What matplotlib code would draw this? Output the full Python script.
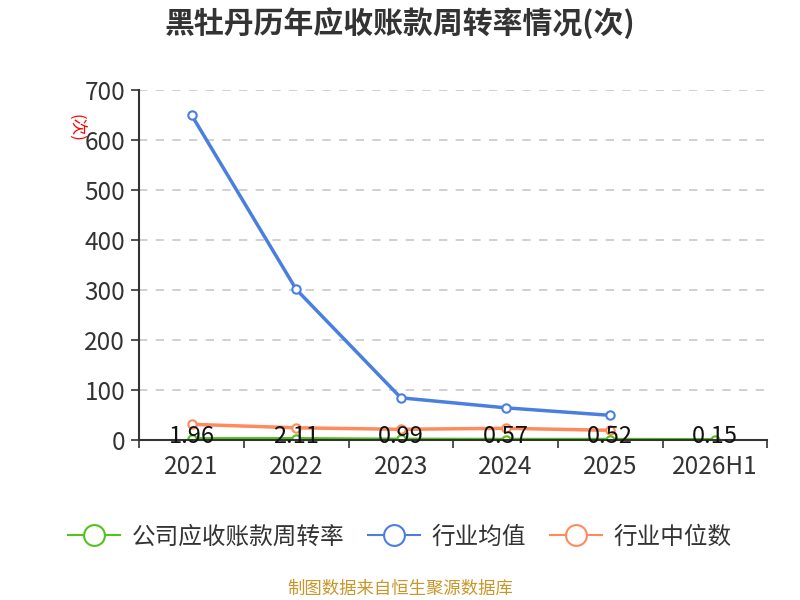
import numpy as np
import matplotlib.pyplot as plt

plt.rcParams['font.family'] = ['Noto Sans CJK SC', 'DejaVu Sans']

# data
categories = ['2021', '2022', '2023', '2024', '2025', '2026H1']
company = [1.96, 2.11, 0.99, 0.57, 0.52, 0.15]
ind_mean = [650, 301, 84, 64, 49]
ind_median = [31, 24, 21, 23, 19]
company_labels = ['1.96', '2.11', '0.99', '0.57', '0.52', '0.15']

c_green = '#52c41a'
c_blue = '#4a7fe0'
c_orange = '#ff8a5c'

fig = plt.figure(figsize=(8, 6), dpi=100)
ax = fig.add_axes([0.174, 0.267, 0.785, 0.583])

x = np.arange(len(categories))
marker_kw = dict(marker='o', markersize=6, markerfacecolor='white', markeredgewidth=1.5)

ax.plot(x[:len(ind_median)], ind_median, color=c_orange, lw=2.5, markeredgecolor=c_orange, **marker_kw)
ax.plot(x[:len(ind_mean)], ind_mean, color=c_blue, lw=2.5, markeredgecolor=c_blue, **marker_kw)
ax.plot(x, company, color=c_green, lw=2.5, markeredgecolor=c_green, **marker_kw)

for xi, lab in zip(x, company_labels):
    ax.text(xi, 7, lab, ha='center', va='center', fontsize=17, color='#111111')

ax.set_xlim(-0.5, len(categories) - 0.5)
ax.set_ylim(0, 700)
ax.set_yticks(np.arange(0, 701, 100))
ax.tick_params(axis='y', labelsize=17.5, labelcolor='#333333', length=6, color='#333333', width=1.2, pad=4)
ax.set_xticks(x)
ax.set_xticklabels(categories)
ax.tick_params(axis='x', labelsize=17.5, labelcolor='#333333', length=0, pad=10)
ax.set_xticks(np.arange(-0.5, len(categories)), minor=True)
ax.tick_params(axis='x', which='minor', length=6, color='#333333', width=1.2)

ax.grid(axis='y', linestyle=(0, (5, 5)), color='#c8c8c8', lw=1.2)
ax.set_axisbelow(True)
for s in ['top', 'right']:
    ax.spines[s].set_visible(False)
ax.spines['left'].set_color('#333333')
ax.spines['bottom'].set_color('#333333')
ax.spines['left'].set_linewidth(1.5)
ax.spines['bottom'].set_linewidth(1.5)

fig.text(0.094, 0.787, '(次)', color='red', fontsize=12, rotation=-90, ha='center', va='center')

fig.text(0.5, 0.962, '黑牡丹历年应收账款周转率情况(次)', ha='center', va='center',
         fontsize=21.5, fontweight='bold', color='#333333')

handles = [
    plt.Line2D([], [], color=c_green, lw=1.5, marker='o', markersize=15, markerfacecolor='white', markeredgewidth=1.5),
    plt.Line2D([], [], color=c_blue, lw=1.5, marker='o', markersize=15, markerfacecolor='white', markeredgewidth=1.5),
    plt.Line2D([], [], color=c_orange, lw=1.5, marker='o', markersize=15, markerfacecolor='white', markeredgewidth=1.5),
]
fig.legend(handles, ['公司应收账款周转率', '行业均值', '行业中位数'], loc='center',
           bbox_to_anchor=(0.5, 0.105), ncol=3, frameon=False, fontsize=17,
           handlelength=2.2, columnspacing=1.0, handletextpad=0.5, labelcolor='#333333')

fig.text(0.5, 0.018, '制图数据来自恒生聚源数据库', ha='center', va='center', fontsize=12.5, color='#c8962a')

fig.savefig('out.png', dpi=100)
